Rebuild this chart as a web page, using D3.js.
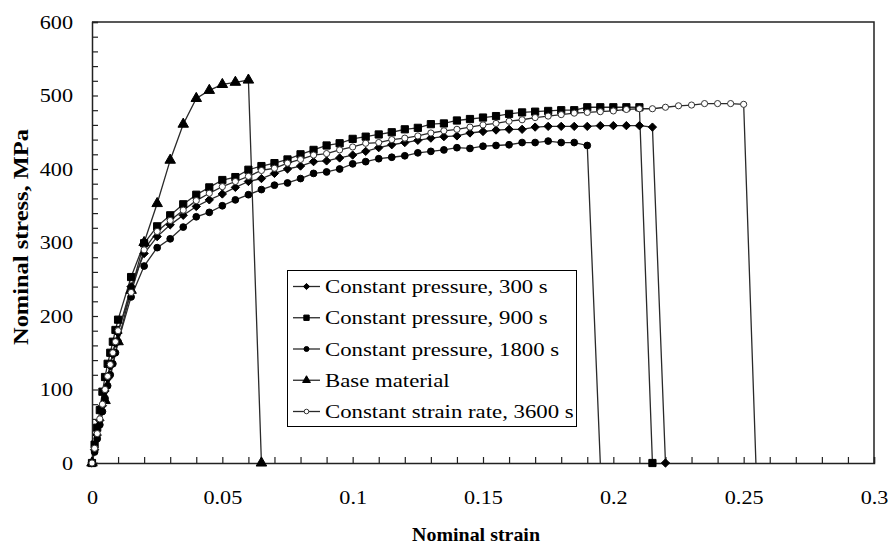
<!DOCTYPE html>
<html>
<head>
<meta charset="utf-8">
<script src="https://cdn.jsdelivr.net/npm/d3@7/dist/d3.min.js"></script>
<style>
  html, body { margin: 0; padding: 0; background: #fff; }
  svg { display: block; }
  text { font-family: "Liberation Serif", "Times New Roman", serif; fill: #000; }
</style>
</head>
<body>
<svg id="chart" width="888" height="544"></svg>
<script>
// Tensile test curves: nominal stress vs nominal strain

const seriesNames = [
  "Constant pressure, 300 s",
  "Constant pressure, 900 s",
  "Constant pressure, 1800 s",
  "Base material",
  "Constant strain rate, 3600 s"
];

// Constant pressure, 300 s
const strain300 = [0, 0.001, 0.002, 0.003, 0.004, 0.005, 0.006, 0.007, 0.008, 0.009, 0.010, 0.015, 0.020,
  0.025, 0.030, 0.035, 0.040, 0.045, 0.050, 0.055, 0.060, 0.065, 0.070, 0.075, 0.080, 0.085, 0.090, 0.095,
  0.100, 0.105, 0.110, 0.115, 0.120, 0.125, 0.130, 0.135, 0.140, 0.145, 0.150, 0.155, 0.160, 0.165, 0.170,
  0.175, 0.180, 0.185, 0.190, 0.195, 0.200, 0.205, 0.210, 0.215, 0.220];
const stress300 = [0, 18, 38, 58, 78, 98, 115, 132, 148, 163, 177, 240, 285,
  308, 324, 337, 349, 358, 366, 375, 383, 387, 394, 400, 404, 410, 411, 415,
  419, 424, 429, 433, 436, 439, 442, 444, 445, 449, 451, 453, 454, 454, 457,
  458, 458, 458, 458, 459, 459, 459, 459, 457, 0];

// Constant pressure, 900 s
const strain900 = [0, 0.001, 0.002, 0.003, 0.004, 0.005, 0.006, 0.007, 0.008, 0.009, 0.010, 0.015, 0.020,
  0.025, 0.030, 0.035, 0.040, 0.045, 0.050, 0.055, 0.060, 0.065, 0.070, 0.075, 0.080, 0.085, 0.090, 0.095,
  0.100, 0.105, 0.110, 0.115, 0.120, 0.125, 0.130, 0.135, 0.140, 0.145, 0.150, 0.155, 0.160, 0.165, 0.170,
  0.175, 0.180, 0.185, 0.190, 0.195, 0.200, 0.205, 0.210, 0.215];
const stress900 = [0, 25, 48, 72, 97, 117, 135, 150, 165, 181, 195, 253, 299,
  322, 337, 352, 365, 375, 385, 389, 399, 404, 408, 413, 420, 426, 432, 435,
  441, 444, 447, 450, 454, 456, 461, 462, 466, 468, 470, 472, 475, 477, 478,
  479, 480, 480, 484, 484, 484, 484, 484, 0];

// Constant pressure, 1800 s
const strain1800 = [0, 0.001, 0.002, 0.003, 0.004, 0.005, 0.006, 0.007, 0.008, 0.009, 0.010, 0.015, 0.020,
  0.025, 0.030, 0.035, 0.040, 0.045, 0.050, 0.055, 0.060, 0.065, 0.070, 0.075, 0.080, 0.085, 0.090, 0.095,
  0.100, 0.105, 0.110, 0.115, 0.120, 0.125, 0.130, 0.135, 0.140, 0.145, 0.150, 0.155, 0.160, 0.165, 0.170,
  0.175, 0.180, 0.185, 0.190, 0.195];
const stress1800 = [0, 15, 33, 52, 70, 88, 105, 120, 135, 150, 165, 226, 268,
  293, 305, 321, 335, 341, 350, 358, 365, 372, 378, 381, 387, 394, 396, 400,
  407, 410, 414, 416, 418, 422, 424, 426, 429, 428, 431, 432, 433, 436, 436,
  438, 436, 436, 432, 0];

// Base material
const strainBase = [0, 0.005, 0.010, 0.015, 0.020, 0.025, 0.030, 0.035, 0.040, 0.045, 0.050, 0.055, 0.060, 0.065];
const stressBase = [0, 85, 165, 235, 300, 353, 412, 461, 496, 507, 515, 518, 521, 0];

// Constant strain rate, 3600 s
const strain3600 = [0, 0.001, 0.002, 0.003, 0.004, 0.005, 0.006, 0.007, 0.008, 0.009, 0.010, 0.015, 0.020,
  0.025, 0.030, 0.035, 0.040, 0.045, 0.050, 0.055, 0.060, 0.065, 0.070, 0.075, 0.080, 0.085, 0.090, 0.095,
  0.100, 0.105, 0.110, 0.115, 0.120, 0.125, 0.130, 0.135, 0.140, 0.145, 0.150, 0.155, 0.160, 0.165, 0.170,
  0.175, 0.180, 0.185, 0.190, 0.195, 0.200, 0.205, 0.210, 0.215, 0.220, 0.225, 0.230, 0.235, 0.240, 0.245,
  0.250, 0.2547];
const stress3600 = [0, 20, 40, 60, 80, 100, 118, 134, 150, 165, 180, 232, 290,
  315, 330, 344, 357, 367, 376, 383, 390, 398, 401, 408, 413, 419, 421, 426,
  430, 435, 436, 440, 442, 445, 449, 452, 454, 457, 460, 462, 465, 467, 470,
  472, 474, 476, 477, 478, 479, 481, 482, 482, 484, 486, 487, 489, 489, 489,
  488, 0];

// Whether the fracture point (last point, at zero stress) carries a marker
const fractureMarked = [true, true, false, true, false];

const xTickLabels = ["0", "0.05", "0.1", "0.15", "0.2", "0.25", "0.3"];
const yTickLabels = ["0", "100", "200", "300", "400", "500", "600"];
const xTitle = "Nominal strain";
const yTitle = "Nominal stress, MPa";

(function draw() {
  const strains = [strain300, strain900, strain1800, strainBase, strain3600];
  const stresses = [stress300, stress900, stress1800, stressBase, stress3600];

  const series = seriesNames.map((name, i) => ({
    name,
    marked: fractureMarked[i],
    points: strains[i].map((s, j) => ({ x: s, y: stresses[i][j] }))
  }));

  const svg = d3.select("#chart");
  const pLeft = 92, pRight = 874, pTop = 22, pBottom = 463;

  const x = d3.scaleLinear().domain([0, 0.3]).range([pLeft, pRight]);
  const y = d3.scaleLinear().domain([0, 600]).range([pBottom, pTop]);

  const lineColor = "#2a2a2a";
  const STRETCH = 1.2;

  // marker shapes per series
  const symbolDefs = [
    { type: d3.symbolDiamond2 || d3.symbolDiamond, size: 44, fill: "#000", stroke: "#000" },
    { type: d3.symbolSquare, size: 52, fill: "#000", stroke: "#000" },
    { type: d3.symbolCircle, size: 36, fill: "#000", stroke: "#000" },
    { type: d3.symbolTriangle, size: 48, fill: "#000", stroke: "#000" },
    { type: d3.symbolCircle, size: 30, fill: "#fff", stroke: "#333" }
  ];

  // ---- frame ----
  svg.append("path")
    .attr("d", `M${pLeft},${pTop}H${pRight}V${pBottom}`)
    .attr("fill", "none").attr("stroke", "#222").attr("stroke-width", 1.5);

  // ---- axes ----
  const gx = svg.append("g").attr("transform", `translate(0,${pBottom})`)
    .call(d3.axisBottom(x).ticks(30).tickSize(-6).tickFormat(""));
  gx.select(".domain").attr("stroke", "#222").attr("stroke-width", 1.5);
  gx.selectAll(".tick line").attr("stroke", "#222").attr("stroke-width", 1.2);

  const gxl = svg.append("g").attr("transform", `translate(0,${pBottom})`)
    .call(d3.axisBottom(x)
      .tickValues(xTickLabels.map(Number))
      .tickSize(0).tickPadding(0)
      .tickFormat((d, i) => xTickLabels[i]));
  gxl.select(".domain").remove();
  gxl.selectAll(".tick text")
    .attr("x", 0).attr("y", 41).attr("dy", null)
    .attr("transform", `scale(${STRETCH},1)`)
    .style("font-size", "18.5px");

  const gy = svg.append("g").attr("transform", `translate(${pLeft},0)`)
    .call(d3.axisLeft(y).ticks(30).tickSize(-6).tickFormat(""));
  gy.select(".domain").attr("stroke", "#222").attr("stroke-width", 1.5);
  gy.selectAll(".tick line").attr("stroke", "#222").attr("stroke-width", 1.2);

  const gyl = svg.append("g").attr("transform", `translate(${pLeft},0)`)
    .call(d3.axisLeft(y)
      .tickValues(yTickLabels.map(Number))
      .tickSize(0).tickPadding(0)
      .tickFormat((d, i) => yTickLabels[i]));
  gyl.select(".domain").remove();
  gyl.selectAll(".tick text")
    .attr("x", -19 / STRETCH).attr("dy", "0.35em")
    .attr("transform", `scale(${STRETCH},1)`)
    .style("font-size", "18.5px");

  // ---- axis titles ----
  svg.append("text")
    .attr("x", 476).attr("y", 541)
    .attr("text-anchor", "middle")
    .attr("textLength", 128).attr("lengthAdjust", "spacingAndGlyphs")
    .style("font-size", "19.5px").style("font-weight", "bold")
    .text(xTitle);

  svg.append("text")
    .attr("transform", "translate(28,237) rotate(-90)")
    .attr("text-anchor", "middle")
    .attr("textLength", 216).attr("lengthAdjust", "spacingAndGlyphs")
    .style("font-size", "20px").style("font-weight", "bold")
    .text(yTitle);

  // ---- curves ----
  const line = d3.line().x(d => x(d.x)).y(d => y(d.y));
  const plot = svg.append("g");

  series.forEach(s => {
    plot.append("path")
      .datum(s.points)
      .attr("d", line)
      .attr("fill", "none")
      .attr("stroke", lineColor)
      .attr("stroke-width", 1.3);
  });

  series.forEach((s, i) => {
    const sym = d3.symbol().type(symbolDefs[i].type).size(symbolDefs[i].size);
    const pts = s.marked ? s.points : s.points.slice(0, -1);
    plot.selectAll(null)
      .data(pts)
      .enter().append("path")
      .attr("transform", d => `translate(${x(d.x)},${y(d.y)})`)
      .attr("d", sym)
      .attr("fill", symbolDefs[i].fill)
      .attr("stroke", symbolDefs[i].stroke)
      .attr("stroke-width", 1);
  });

  // ---- legend ----
  const legend = svg.append("g");
  legend.append("rect")
    .attr("x", 287.5).attr("y", 270.5).attr("width", 289).attr("height", 156)
    .attr("fill", "#fff").attr("stroke", "#000").attr("stroke-width", 1);

  const rowY = d3.scaleLinear().domain([0, 4]).range([286.5, 411.5]);
  seriesNames.forEach((name, i) => {
    const yy = rowY(i);
    legend.append("line")
      .attr("x1", 293).attr("x2", 320).attr("y1", yy).attr("y2", yy)
      .attr("stroke", lineColor).attr("stroke-width", 1.3);
    legend.append("path")
      .attr("transform", `translate(306.5,${yy})`)
      .attr("d", d3.symbol().type(symbolDefs[i].type).size(symbolDefs[i].size * 0.55))
      .attr("fill", symbolDefs[i].fill)
      .attr("stroke", symbolDefs[i].stroke)
      .attr("stroke-width", 1);
    legend.append("text")
      .attr("transform", `translate(325,${yy}) scale(${STRETCH},1)`)
      .attr("dy", "0.35em")
      .style("font-size", "19px")
      .text(name);
  });
})();
</script>
</body>
</html>
